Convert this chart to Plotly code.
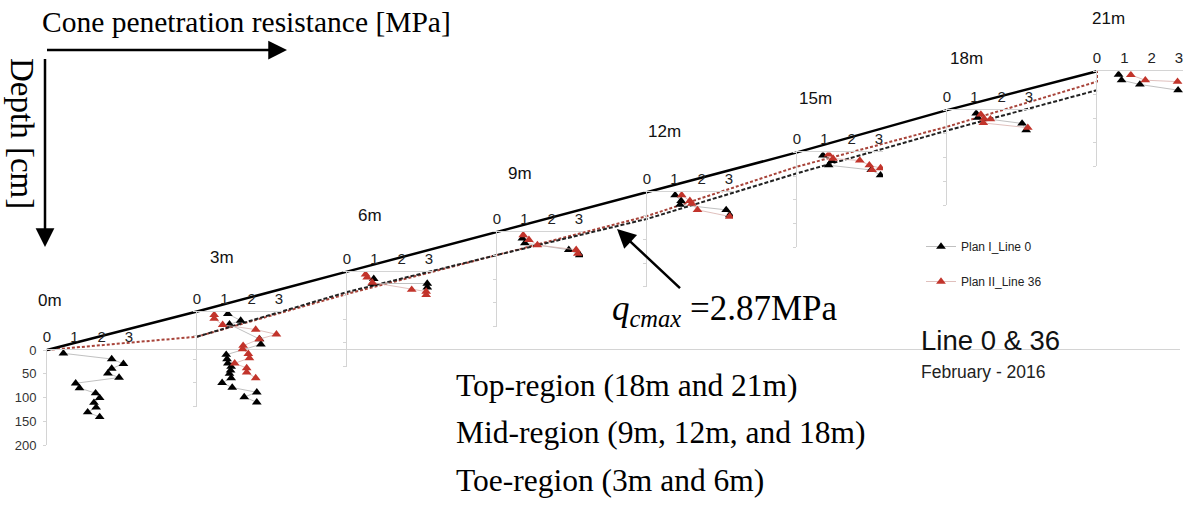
import plotly.graph_objects as go

W, H = 1188, 530

# ---------------- data ----------------
STATIONS_M = [0, 3, 6, 9, 12, 15, 18, 21]
STATION_LABELS = ["0m", "3m", "6m", "9m", "12m", "15m", "18m", "21m"]
GROUND_ELEV_CM = [0, 81, 165, 249, 333, 416, 505, 587]

RED_LINE_X = [0, 3, 6, 9, 12, 15, 18, 21, 21]
RED_LINE_ELEV = [0, 28, 118, 200, 282, 386, 470, 565, 587]
BLACK_LINE_X = [3, 6, 9, 12, 15, 18, 21]
BLACK_LINE_ELEV = [28, 122, 200, 276, 372, 462, 547]

BLACK_QC = [
    [0.60, 2.37, 2.80, 2.37, 2.23, 2.64, 1.05, 1.19, 1.78, 1.93, 1.72, 1.80, 1.49, 1.93],
    [1.13, 1.60, 1.19, 2.29, 2.34, 1.07, 1.10, 1.13, 1.25, 1.23, 1.19, 1.25, 0.92, 1.29, 2.19, 1.73, 2.19],
    [0.98, 0.93, 2.94, 2.94],
    [0.93, 1.02, 2.63, 3.03],
    [1.03, 1.25, 1.21, 2.90, 3.03],
    [0.95, 1.28, 1.16, 2.72, 3.06],
    [1.07, 1.13, 2.75, 2.90],
    [0.79, 0.90, 1.57, 2.97],
]
BLACK_DEPTH = [
    [7, 19, 29, 39, 49, 58, 70, 80, 91, 101, 111, 121, 131, 141],
    [5, 19, 27, 58, 69, 91, 100, 109, 116, 124, 131, 140, 150, 160, 170, 180, 191],
    [15, 25, 25, 33],
    [14, 24, 38, 49],
    [7, 19, 27, 38, 49],
    [6, 18, 27, 37, 48],
    [7, 16, 28, 42],
    [7, 19, 28, 40],
]
RED_QC = [
    [],
    [0.63, 0.63, 0.94, 2.15, 2.91, 2.28, 1.69, 1.67, 1.88, 1.92, 1.38, 1.82, 1.82, 2.15],
    [0.68, 0.74, 0.93, 2.37, 2.90, 2.90],
    [0.96, 1.17, 1.48, 2.90, 2.96],
    [1.27, 1.57, 1.64, 1.85, 3.03],
    [1.16, 1.32, 2.30, 2.65, 3.06, 2.75],
    [1.24, 1.36, 1.59, 1.33, 2.96],
    [1.24, 1.77, 2.95],
]
RED_DEPTH = [
    [],
    [7, 15, 28, 38, 48, 58, 72, 79, 89, 98, 109, 119, 128, 140],
    [6, 12, 23, 38, 42, 49],
    [7, 17, 28, 38, 46],
    [7, 19, 25, 38, 52],
    [4, 13, 17, 27, 33, 37],
    [9, 18, 19, 27, 37],
    [8, 19, 22],
]
QC_TICKS = [0, 1, 2, 3]
DEPTH_TICKS = [0, 50, 100, 150, 200]

# ---------------- geometry (layout only) ----------------
X0_PX = 47          # pixel of station 0m
PX_PER_M = 50       # horizontal pixels per metre along slope
Y0_PX = 350         # pixel of elevation 0
PX_PER_CM = 0.475   # vertical pixels per cm (elevation and depth)
PX_PER_MPA = 27.3
QC_MAX = 3.15
DEPTH_MAX = 200

SERIF = "Liberation Serif, Times New Roman, serif"
SANS = "Liberation Sans, Arial, sans-serif"
RED = "#c2342b"

fig = go.Figure()

# main slope axis
fig.update_layout(
    xaxis=dict(domain=[0, 1], range=[-X0_PX / PX_PER_M, (W - X0_PX) / PX_PER_M],
               visible=False, showgrid=False, zeroline=False, automargin=False),
    yaxis=dict(domain=[0, 1], range=[(Y0_PX - H) / PX_PER_CM, Y0_PX / PX_PER_CM],
               visible=False, showgrid=False, zeroline=False, automargin=False),
)

fig.add_trace(go.Scatter(x=RED_LINE_X, y=RED_LINE_ELEV, mode="lines",
                         line=dict(color="#a8443a", width=2, dash="3px,2px"),
                         showlegend=False, hoverinfo="skip"))
fig.add_trace(go.Scatter(x=BLACK_LINE_X, y=BLACK_LINE_ELEV, mode="lines",
                         line=dict(color="#222222", width=2, dash="4px,2px"),
                         showlegend=False, hoverinfo="skip"))
fig.add_trace(go.Scatter(x=STATIONS_M, y=GROUND_ELEV_CM, mode="lines",
                         line=dict(color="black", width=2.5),
                         showlegend=False, hoverinfo="skip"))

label_shift = [(3, 50), (25, 54), (23, 56), (23, 58), (17, 60), (18, 54), (19, 52), (11, 53)]

for k, (m, g) in enumerate(zip(STATIONS_M, GROUND_ELEV_CM)):
    n = k + 2
    left = X0_PX + PX_PER_M * m
    top = Y0_PX - PX_PER_CM * g
    bottom = top + DEPTH_MAX * PX_PER_CM
    if k == 0:
        right = 1180
    else:
        right = min(left + QC_MAX * PX_PER_MPA, W)
    xr = (right - left) / PX_PER_MPA
    xa = dict(domain=[left / W, right / W], range=[0, xr], anchor=f"y{n}",
              side="top", tickvals=QC_TICKS, ticks="", showline=True,
              linecolor="#d4d4d4", linewidth=1, showgrid=False, zeroline=False,
              tickfont=dict(family=SANS, size=15, color="#222"),
              ticklabelstandoff=1, automargin=False)
    ya = dict(domain=[1 - bottom / H, 1 - top / H], range=[DEPTH_MAX, 0],
              anchor=f"x{n}", tickvals=DEPTH_TICKS, ticks="outside", ticklen=3,
              tickcolor="#d4d4d4", showline=True, linecolor="#d4d4d4",
              linewidth=1, showgrid=False, zeroline=False,
              showticklabels=(k == 0),
              tickfont=dict(family=SANS, size=13, color="#333"),
              ticklabelstandoff=4, automargin=False)
    fig.layout[f"xaxis{n}"] = xa
    fig.layout[f"yaxis{n}"] = ya

    fig.add_trace(go.Scatter(
        x=BLACK_QC[k], y=BLACK_DEPTH[k], xaxis=f"x{n}", yaxis=f"y{n}",
        mode="lines+markers", name="Plan I_Line 0", legendgroup="b",
        showlegend=(k == 1),
        line=dict(color="#b0b0b0", width=0.8),
        marker=dict(symbol="triangle-up", size=8.5, color="black")))
    if RED_QC[k]:
        fig.add_trace(go.Scatter(
            x=RED_QC[k], y=RED_DEPTH[k], xaxis=f"x{n}", yaxis=f"y{n}",
            mode="lines+markers", name="Plan II_Line 36", legendgroup="r",
            showlegend=(k == 1),
            line=dict(color="#d8b0ac", width=0.8),
            marker=dict(symbol="triangle-up", size=8.5, color=RED)))

    dx, dy = label_shift[k]
    fig.add_annotation(x=m, y=g, xref="x", yref="y", text=STATION_LABELS[k],
                       showarrow=False, xshift=dx, yshift=dy,
                       xanchor="center", yanchor="middle",
                       font=dict(family=SANS, size=17, color="#111"))

def P(px, py):
    return px / W, 1 - py / H

anns = []
x, y = P(40, 22)
anns.append(dict(x=x, y=y, text="Cone penetration resistance [MPa]", xanchor="left",
                 font=dict(family=SERIF, size=29.5, color="black")))
x, y = P(22, 133)
anns.append(dict(x=x, y=y, text="Depth [cm]", textangle=90, xanchor="center",
                 font=dict(family=SERIF, size=33, color="black")))
x, y = P(919, 340)
anns.append(dict(x=x, y=y, text="Line 0 &amp; 36", xanchor="left",
                 font=dict(family=SANS, size=27.5, color="#111")))
x, y = P(919, 372)
anns.append(dict(x=x, y=y, text="February - 2016", xanchor="left",
                 font=dict(family=SANS, size=17.5, color="#222")))
for t, py in [("Top-region (18m and 21m)", 385), ("Mid-region (9m, 12m, and 18m)", 432),
              ("Toe-region (3m and 6m)", 480)]:
    x, y = P(454, py)
    anns.append(dict(x=x, y=y, text=t, xanchor="left",
                     font=dict(family=SERIF, size=31.5, color="black")))
x, y = P(610, 310)
anns.append(dict(x=x, y=y, text="<i>q<sub>cmax</sub></i> =2.87MPa", xanchor="left",
                 font=dict(family=SERIF, size=35, color="black")))
for a in anns:
    a.update(xref="paper", yref="paper", showarrow=False, yanchor="middle")
    fig.add_annotation(**a)

# arrows
for head, tail in [((287, 50), (44, 50)), ((45, 247), (45, 49)), ((617, 229), (683, 291))]:
    hx, hy = P(*head)
    fig.add_annotation(x=hx, y=hy, xref="paper", yref="paper", text=" ",
                       showarrow=True, ax=tail[0] - head[0], ay=tail[1] - head[1],
                       arrowhead=2, arrowsize=1.5, arrowwidth=2.5, arrowcolor="black")

fig.update_layout(
    width=W, height=H, margin=dict(l=0, r=0, t=0, b=0, pad=0, autoexpand=False),
    paper_bgcolor="white", plot_bgcolor="rgba(0,0,0,0)",
    showlegend=True,
    legend=dict(x=921 / W, y=1 - 232 / H, xanchor="left", yanchor="top",
                bgcolor="rgba(0,0,0,0)", traceorder="grouped", tracegroupgap=16,
                font=dict(family=SANS, size=12, color="#222")),
)

fig.write_html("out.html", config={"displayModeBar": False},
               post_script="document.body.style.margin='0';document.body.style.overflow='hidden';")
